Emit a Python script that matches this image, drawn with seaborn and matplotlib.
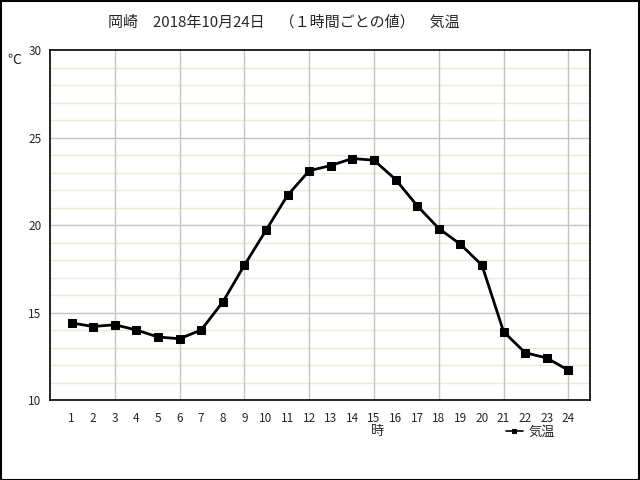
import numpy as np
import pandas as pd
import matplotlib
matplotlib.use('Agg')
import matplotlib.pyplot as plt
from matplotlib.patches import Rectangle
import seaborn as sns

sns.set_style('white')
plt.rcParams['font.family'] = ['Noto Sans CJK JP', 'DejaVu Sans']

# hourly temperature, Okazaki 2018-10-24
hours = list(range(1, 25))
temps = [14.4, 14.2, 14.3, 14.0, 13.6, 13.5, 14.0, 15.6, 17.7, 19.7, 21.7, 23.1,
         23.4, 23.8, 23.7, 22.6, 21.1, 19.8, 18.9, 17.7, 13.9, 12.7, 12.4, 11.7]
yticks = [10, 15, 20, 25, 30]
df = pd.DataFrame({'時': hours, '気温': temps})

fig = plt.figure(figsize=(6.4, 4.8), dpi=100)
ax = fig.add_axes([50 / 640, 80 / 480, 540 / 640, 350 / 480])

# grid: beige every 1 degree, gray every 5 degrees and every 3 hours
for v in range(11, 30):
    if v % 5:
        ax.axhline(v, color='#eee8d8', lw=1, zorder=0)
for v in [15, 20, 25]:
    ax.axhline(v, color='#c4c4c4', lw=1, zorder=0)
for h in range(3, 25, 3):
    ax.axvline(h, color='#c4c4c4', lw=1, zorder=0)

sns.lineplot(data=df, x='時', y='気温', ax=ax, color='black', lw=2,
             marker='s', markersize=6, markeredgecolor='black', label='気温')

ax.set_xlim(0, 25)
ax.set_ylim(10, 30)
ax.set_xticks(hours)
ax.set_yticks(yticks)
ax.tick_params(axis='both', length=0, labelsize=8.5)
ax.tick_params(axis='x', pad=9)
ax.tick_params(axis='y', pad=6)
ax.set_xlabel('')
ax.set_ylabel('')
for s in ax.spines.values():
    s.set_color('black')
    s.set_linewidth(1.2)

fig.text(284 / 640, 1 - 22 / 480, '岡崎　2018年10月24日　（１時間ごとの値）　気温',
         ha='center', va='center', fontsize=10.8)
fig.text(14 / 640, 1 - 60 / 480, '℃', ha='center', va='center', fontsize=10)
fig.text(378 / 640, 1 - 432 / 480, '時', ha='center', va='center', fontsize=9.5)

leg = ax.legend(loc='center left', bbox_to_anchor=(494 / 640, 1 - 432 / 480),
                bbox_transform=fig.transFigure, frameon=False, fontsize=9.5,
                handlelength=1.3, handletextpad=0.4, markerscale=0.5)
for ln in leg.get_lines():
    ln.set_linewidth(1.2)

fig.patches.append(Rectangle((0.5 / 640, 0.5 / 480), 638.5 / 640, 478.5 / 480,
                             transform=fig.transFigure, fill=False,
                             edgecolor='black', lw=1.5))

fig.savefig('out.png', dpi=100)
